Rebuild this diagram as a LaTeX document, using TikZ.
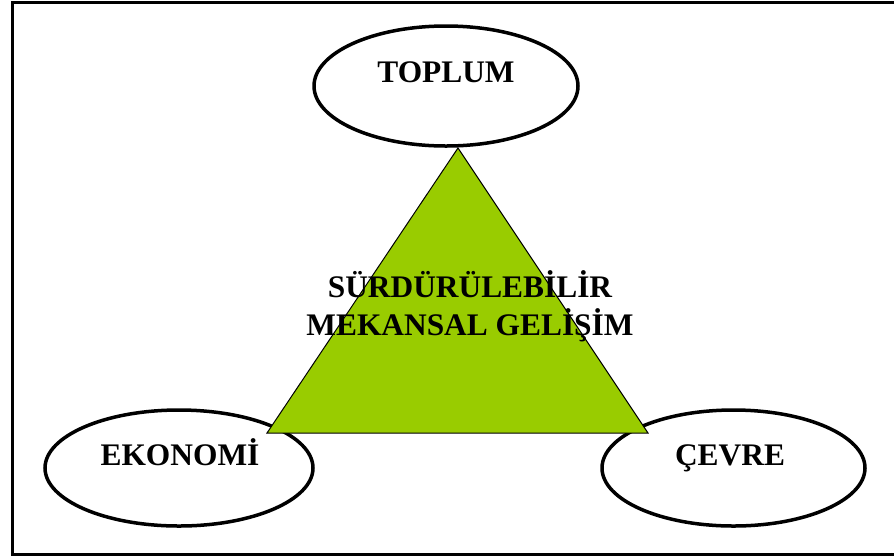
\documentclass[tikz,border=0pt]{standalone}
\usepackage{fontspec}
\setmainfont{Liberation Serif}
\usetikzlibrary{shapes.geometric}
\definecolor{leaf}{HTML}{99CC00}

\begin{document}
\begin{tikzpicture}[x=1pt, y=-1pt,
  pillar/.style={draw, ellipse, line width=3.5pt, inner sep=0pt},
  word/.style={anchor=base, font=\fontsize{31.4}{38}\selectfont\bfseries}]

  \useasboundingbox (0,0) rectangle (894,558);
  \draw[line width=3pt] (12,2.5) rectangle (900,554);

  \node[pillar, minimum width=264, minimum height=120] (toplum) at (446,86) {};
  \node[pillar, minimum width=268, minimum height=116] (ekonomi) at (179,468) {};
  \node[pillar, minimum width=263, minimum height=116] (cevre) at (733.5,468) {};

  \coordinate (apex) at (458,148);
  \coordinate (left) at (267,433);
  \coordinate (right) at (648,433);
  \filldraw[fill=leaf, draw=black, line width=1pt] (apex) -- (left) -- (right) -- cycle;

  \node[word] (toplumtext) at (446,82) {TOPLUM};
  \node[word] (ekonomitext) at (180,465) {EKONOMİ};
  \node[word] (cevretext) at (730,465) {ÇEVRE};

  \node[word] (surdur) at (470,297) {SÜRDÜRÜLEBİLİR};
  \node[word] (mekan) at (470,335) {MEKANSAL GELİŞİM};

\end{tikzpicture}
\end{document}
